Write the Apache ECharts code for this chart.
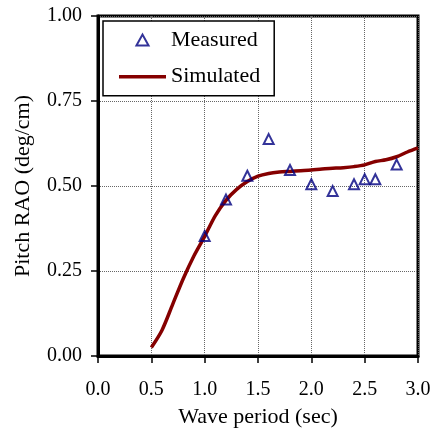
<!DOCTYPE html>
<html>
<head>
<meta charset="utf-8">
<script src="https://cdn.jsdelivr.net/npm/echarts@6/dist/echarts.min.js"></script>
<style>html,body{margin:0;padding:0;background:#fff;}#c{width:435px;height:436px;}</style>
</head>
<body>
<div id="c"></div>
<script>
// Measured data (triangles)
var measuredX = [1.0, 1.2, 1.4, 1.6, 1.8, 2.0, 2.2, 2.4, 2.5, 2.6, 2.8];
var measuredY = [0.353, 0.460, 0.530, 0.638, 0.547, 0.505, 0.485, 0.505, 0.520, 0.520, 0.563];
// Simulated curve
var simX = [0.5, 0.6, 0.7, 0.8, 0.9, 1.0, 1.1, 1.2, 1.3, 1.4, 1.5, 1.6, 1.7, 1.8, 1.9, 2.0, 2.1, 2.2, 2.3, 2.4, 2.5, 2.6, 2.7, 2.8, 2.9, 3.0];
var simY = [0.025, 0.076, 0.152, 0.228, 0.295, 0.352, 0.413, 0.458, 0.49, 0.513, 0.529, 0.537, 0.541, 0.543, 0.545, 0.547, 0.550, 0.552, 0.554, 0.557, 0.562, 0.572, 0.577, 0.586, 0.600, 0.612];
var xTicks = [0.0, 0.5, 1.0, 1.5, 2.0, 2.5, 3.0];
var yTicks = [0.00, 0.25, 0.50, 0.75, 1.00];

var font = 'Liberation Serif';
var chart = echarts.init(document.getElementById('c'), null, {renderer: 'canvas'});
chart.setOption({
  animation: false,
  backgroundColor: '#fff',
  grid: {left: 98, right: 17, top: 16, bottom: 80, show: true, borderColor: '#000', borderWidth: 3, backgroundColor: 'transparent'},
  legend: {
    orient: 'vertical', left: 103, top: 21,
    padding: [8, 14, 8, 16],
    itemGap: 14.7, itemWidth: 47, itemHeight: 11,
    symbolKeepAspect: true,
    borderColor: '#000', borderWidth: 1.5, backgroundColor: '#fff',
    textStyle: {fontFamily: font, fontSize: 22, color: '#000', lineHeight: 22},
    data: [
      {name: 'Measured', icon: 'path://M0,10L5.5,0L11,10Z', itemStyle: {color: 'rgba(255,255,255,0)', borderColor: '#000080', borderWidth: 2}},
      {name: 'Simulated', icon: 'path://M0,0L47,0L47,3.5L0,3.5Z', itemStyle: {color: '#850000', borderWidth: 0}}
    ]
  },
  xAxis: {
    type: 'value', min: xTicks[0], max: xTicks[xTicks.length - 1], interval: 0.5,
    name: 'Wave period (sec)', nameLocation: 'middle', nameGap: 50,
    nameTextStyle: {fontFamily: font, fontSize: 22, color: '#000'},
    axisLine: {show: true, lineStyle: {color: '#000', width: 3}},
    axisTick: {show: true, length: 7, lineStyle: {color: '#000', width: 1.5}},
    axisLabel: {fontFamily: font, fontSize: 20, color: '#000', margin: 24, formatter: function (v) { return v.toFixed(1); }},
    splitLine: {show: true, lineStyle: {color: '#666', width: 1, type: 'dotted'}}
  },
  yAxis: {
    type: 'value', min: yTicks[0], max: yTicks[yTicks.length - 1], interval: 0.25,
    name: 'Pitch RAO (deg/cm)', nameLocation: 'middle', nameGap: 64,
    nameTextStyle: {fontFamily: font, fontSize: 22, color: '#000'},
    axisLine: {show: true, lineStyle: {color: '#000', width: 3}},
    axisTick: {show: true, length: 7, lineStyle: {color: '#000', width: 1.5}},
    axisLabel: {fontFamily: font, fontSize: 20, color: '#000', margin: 16, formatter: function (v) { return v.toFixed(2); }},
    splitLine: {show: true, lineStyle: {color: '#666', width: 1, type: 'dotted'}}
  },
  series: [
    {
      name: 'Measured', type: 'scatter', symbol: 'triangle', symbolSize: 10, z: 5,
      itemStyle: {color: 'rgba(255,255,255,0)', borderColor: '#000080', borderWidth: 2},
      data: measuredX.map(function (x, i) { return [x, measuredY[i]]; })
    },
    {
      name: 'Simulated', type: 'line', symbol: 'none', smooth: 0.3, z: 3,
      lineStyle: {color: '#850000', width: 3.5},
      itemStyle: {color: '#850000'},
      data: simX.map(function (x, i) { return [x, simY[i]]; })
    }
  ]
});
</script>
</body>
</html>
